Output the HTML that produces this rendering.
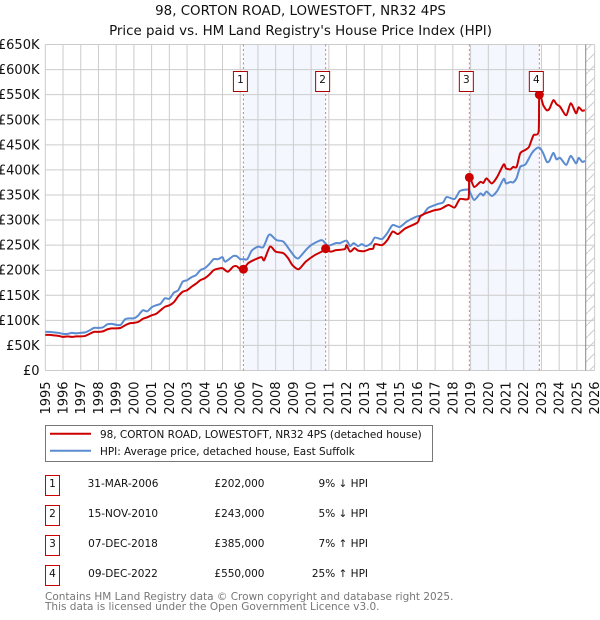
<!DOCTYPE html>
<html>
<head>
<meta charset="utf-8">
<title>98, CORTON ROAD, LOWESTOFT, NR32 4PS</title>
<style>
html,body{margin:0;padding:0;background:#fff;width:600px;height:620px;overflow:hidden}
svg{display:block}
text{font-family:"DejaVu Sans","Liberation Sans",sans-serif;fill:#111}
</style>
</head>
<body>
<svg id="chart" xmlns="http://www.w3.org/2000/svg" width="600" height="620" viewBox="0 0 600 620">
  <defs>
    <pattern id="hatch" patternUnits="userSpaceOnUse" width="12" height="12">
      <line x1="0" y1="12" x2="12" y2="0" stroke="#ccc" stroke-width="1"></line>
    </pattern>
  </defs>
  <text x="300.5" y="15" text-anchor="middle" font-size="13.4">98, CORTON ROAD, LOWESTOFT, NR32 4PS</text>
  <text x="300.5" y="35" text-anchor="middle" font-size="13.4">Price paid vs. HM Land Registry's House Price Index (HPI)</text>
  <g id="shades"></g>
  <g id="grid"></g>
  <rect x="585.7" y="44.5" width="9" height="326" fill="url(#hatch)"></rect>
  <line x1="585.7" x2="585.7" y1="44.5" y2="370.5" stroke="#888" stroke-width="1"></line>
  <g id="vlines"></g>
  <g id="series"></g>
  <g id="markers"></g>
  <g id="labels"></g>
  <g id="yticks"></g>
  <g id="xticks"></g>

  <g>
    <rect x="45.5" y="425.5" width="387" height="36" fill="#fff" stroke="#777" stroke-width="1"></rect>
    <line x1="50" x2="91" y1="433.7" y2="433.7" stroke="#cc0000" stroke-width="2"></line>
    <text x="100" y="438" font-size="10.45">98, CORTON ROAD, LOWESTOFT, NR32 4PS (detached house)</text>
    <line x1="50" x2="91" y1="450.7" y2="450.7" stroke="#5b8bd0" stroke-width="2"></line>
    <text x="100" y="455" font-size="10.45">HPI: Average price, detached house, East Suffolk</text>
  </g>

  <g font-size="10.5">
    <rect x="45.5" y="475.5" width="14" height="20" fill="#fff" stroke="#cc0000"></rect>
    <text x="52.5" y="487" text-anchor="middle" font-size="10.5">1</text>
    <text x="123" y="487" text-anchor="middle" font-size="10.5">31-MAR-2006</text>
    <text x="264.5" y="487" text-anchor="end" font-size="10.5">£202,000</text>
    <text x="368" y="487" text-anchor="end" font-size="10.5">9% ↓ HPI</text>

    <rect x="45.5" y="505.5" width="14" height="20" fill="#fff" stroke="#cc0000"></rect>
    <text x="52.5" y="517" text-anchor="middle" font-size="10.5">2</text>
    <text x="123" y="517" text-anchor="middle" font-size="10.5">15-NOV-2010</text>
    <text x="264.5" y="517" text-anchor="end" font-size="10.5">£243,000</text>
    <text x="368" y="517" text-anchor="end" font-size="10.5">5% ↓ HPI</text>

    <rect x="45.5" y="535.5" width="14" height="20" fill="#fff" stroke="#cc0000"></rect>
    <text x="52.5" y="547" text-anchor="middle" font-size="10.5">3</text>
    <text x="123" y="547" text-anchor="middle" font-size="10.5">07-DEC-2018</text>
    <text x="264.5" y="547" text-anchor="end" font-size="10.5">£385,000</text>
    <text x="368" y="547" text-anchor="end" font-size="10.5">7% ↑ HPI</text>

    <rect x="45.5" y="565.5" width="14" height="20" fill="#fff" stroke="#cc0000"></rect>
    <text x="52.5" y="577" text-anchor="middle" font-size="10.5">4</text>
    <text x="123" y="577" text-anchor="middle" font-size="10.5">09-DEC-2022</text>
    <text x="264.5" y="577" text-anchor="end" font-size="10.5">£550,000</text>
    <text x="368" y="577" text-anchor="end" font-size="10.5">25% ↑ HPI</text>
  </g>

  <text x="45" y="600" font-size="10.5" style="fill:#777">Contains HM Land Registry data © Crown copyright and database right 2025.</text>
  <text x="45" y="610" font-size="10.5" style="fill:#777">This data is licensed under the Open Government Licence v3.0.</text>
</svg>
<script>
const xYears = [1995,1996,1997,1998,1999,2000,2001,2002,2003,2004,2005,2006,2007,2008,2009,2010,2011,2012,2013,2014,2015,2016,2017,2018,2019,2020,2021,2022,2023,2024,2025,2026];
const yTickValues = [0,50,100,150,200,250,300,350,400,450,500,550,600,650];
const yTickLabels = ['£0','£50K','£100K','£150K','£200K','£250K','£300K','£350K','£400K','£450K','£500K','£550K','£600K','£650K'];

const hpiDates = [1995,1995.25,1995.5,1995.75,1996,1996.25,1996.5,1996.75,1997,1997.25,1997.5,1997.75,1998,1998.25,1998.5,1998.75,1999,1999.25,1999.5,1999.75,2000,2000.25,2000.5,2000.75,2001,2001.25,2001.5,2001.75,2002,2002.25,2002.5,2002.75,2003,2003.25,2003.5,2003.75,2004,2004.25,2004.5,2004.75,2005,2005.15,2005.6,2005.8,2006,2006.2,2006.4,2006.65,2007,2007.3,2007.57,2007.7,2008.05,2008.43,2008.8,2009.1,2009.3,2009.7,2010,2010.6,2010.95,2011.4,2011.63,2012,2012.2,2012.4,2012.65,2012.85,2013.1,2013.4,2013.6,2014,2014.3,2014.6,2015,2015.4,2015.95,2016.3,2016.6,2017.15,2017.45,2017.65,2018.1,2018.4,2018.87,2018.95,2019.2,2019.55,2019.72,2019.9,2020.2,2020.5,2020.87,2021,2021.25,2021.4,2021.6,2021.8,2022.1,2022.45,2022.72,2022.9,2023.1,2023.3,2023.45,2023.67,2023.85,2024.05,2024.4,2024.65,2024.95,2025.1,2025.3,2025.45];
const hpiValues = [77,77,76,75,73,73,75,74,75,76,80,85,85,86,92,93,91,91,102,104,104,110,120,118,126,130,133,144,143,155,160,177,180,186,190,200,204,212,222,222,226,217,228,228,222,222,222,239,247,246,268,271,260,257,240,226,224,240,250,260,249,254,254,259,248,254,248,252,248,254,265,262,274,290,286,297,307,310,324,332,335,346,342,358,361,357,340,353,349,357,348,358,382,373,376,375,384,406,411,433,443,444,433,416,418,434,421,424,410,428,413,424,416,418];

const paidDates = [1995,1995.25,1995.5,1995.75,1996,1996.25,1996.5,1996.75,1997,1997.25,1997.5,1997.75,1998,1998.25,1998.5,1998.75,1999,1999.25,1999.5,1999.75,2000,2000.25,2000.5,2000.75,2001,2001.25,2001.5,2001.75,2002,2002.25,2002.5,2002.75,2003,2003.25,2003.5,2003.75,2004,2004.25,2004.5,2004.75,2005,2005.3,2005.6,2005.8,2006,2006.18,2006.45,2006.75,2007.2,2007.35,2007.68,2008,2008.43,2008.7,2008.95,2009.3,2009.7,2010.2,2010.6,2010.82,2011.1,2011.4,2011.9,2012,2012.2,2012.45,2012.65,2013,2013.3,2013.5,2013.6,2014,2014.3,2014.6,2014.9,2015.3,2016,2016.2,2016.9,2017.3,2017.75,2018.1,2018.4,2018.88,2018.93,2019.2,2019.55,2019.72,2019.9,2020.2,2020.5,2020.87,2021,2021.25,2021.4,2021.6,2021.8,2022.1,2022.3,2022.55,2022.84,2022.88,2023.1,2023.3,2023.45,2023.67,2023.85,2024.05,2024.4,2024.65,2024.95,2025.1,2025.3,2025.45];
const paidValues = [71,71,70,69,67,68,67,68,68,69,73,77,77,78,82,84,84,85,90,94,95,97,103,106,110,113,120,127,130,136,148,157,160,167,173,180,184,191,200,203,204,197,207,208,202,202,214,220,226,220,247,237,234,224,210,202,217,230,237,243,237,240,242,250,237,244,239,238,242,243,252,250,260,277,272,283,295,309,319,322,330,325,342,343,386,366,376,374,383,373,386,411,403,401,406,406,433,440,446,469,476,551,529,519,522,539,531,526,509,533,513,525,518,519];

const saleDates = [2006.18,2010.82,2018.93,2022.88];
const salePrices = [202,243,385,550];
const saleNames = ['1','2','3','4'];

const NS = 'http://www.w3.org/2000/svg';
const xOf = y => 45.3 + (y - 1995) * 17.72;
const yOf = v => 370.5 - v * 0.5015;
const TOP = yOf(650), BOTTOM = yOf(0);

function mk(parent, tag, attrs, text) {
  const el = document.createElementNS(NS, tag);
  for (const k in attrs) el.setAttribute(k, attrs[k]);
  if (text !== undefined) el.textContent = text;
  document.getElementById(parent).appendChild(el);
  return el;
}

for (let i = 0; i < saleDates.length; i += 2) {
  const el = mk('shades', 'rect', {x: xOf(saleDates[i]), y: TOP, width: xOf(saleDates[i + 1]) - xOf(saleDates[i]), height: BOTTOM - TOP, fill: '#f4f7fe'});
  
  
}

xYears.forEach(y => {
  const line = mk('grid', 'line', {x1: xOf(y), x2: xOf(y), y1: TOP, y2: BOTTOM, stroke: '#ccc', 'stroke-width': 1});
  
  
  const px = xOf(y) + 4.5;
  const label = mk('xticks', 'text', {x: px, y: 414.5, 'font-size': 13, transform: 'rotate(-90 ' + px + ' 414.5)'}, String(y));
  
  
});

yTickValues.forEach((v, i) => {
  const line = mk('grid', 'line', {x1: 45.3, x2: 594.7, y1: yOf(v), y2: yOf(v), stroke: '#ccc', 'stroke-width': 1});
  
  
  const label = mk('yticks', 'text', {x: 39.5, y: yOf(v) + 4.5, 'text-anchor': 'end', 'font-size': 13}, yTickLabels[i]);
  
  
});

saleDates.forEach(d => {
  const el = mk('vlines', 'line', {x1: xOf(d), x2: xOf(d), y1: TOP, y2: BOTTOM, stroke: '#e8707f', 'stroke-width': 1, 'stroke-dasharray': '2 2.5'});
  
  
});

function curve(dates, values) {
  const p = dates.map((d, i) => [xOf(d), yOf(values[i])]);
  let s = 'M' + p[0][0].toFixed(2) + ' ' + p[0][1].toFixed(2);
  for (let i = 0; i < p.length - 1; i++) {
    const a = p[Math.max(i - 1, 0)], b = p[i], c = p[i + 1], e = p[Math.min(i + 2, p.length - 1)];
    const t = 0.12;
    s += 'C' + (b[0] + (c[0] - a[0]) * t).toFixed(2) + ' ' + (b[1] + (c[1] - a[1]) * t).toFixed(2) + ' ' +
      (c[0] - (e[0] - b[0]) * t).toFixed(2) + ' ' + (c[1] - (e[1] - b[1]) * t).toFixed(2) + ' ' +
      c[0].toFixed(2) + ' ' + c[1].toFixed(2);
  }
  return s;
}

const hpiLine = mk('series', 'path', {d: curve(hpiDates, hpiValues), fill: 'none', stroke: '#5b8bd0', 'stroke-width': 2, 'stroke-linejoin': 'round'});



const paidLine = mk('series', 'path', {d: curve(paidDates, paidValues), fill: 'none', stroke: '#cc0000', 'stroke-width': 2, 'stroke-linejoin': 'round'});



saleDates.forEach((d, i) => {
  const dot = mk('markers', 'circle', {cx: xOf(d), cy: yOf(salePrices[i]), r: 4.5, fill: '#cc0000'});
  
  
  const box = mk('labels', 'rect', {x: xOf(d) - 10, y: 71.5, width: 14, height: 20, fill: '#fff', stroke: '#b00000', 'stroke-width': 1});
  
  
  const txt = mk('labels', 'text', {x: xOf(d) - 3, y: 83, 'text-anchor': 'middle', 'font-size': 10.5}, saleNames[i]);
  
  
});
</script>
</body>
</html>
